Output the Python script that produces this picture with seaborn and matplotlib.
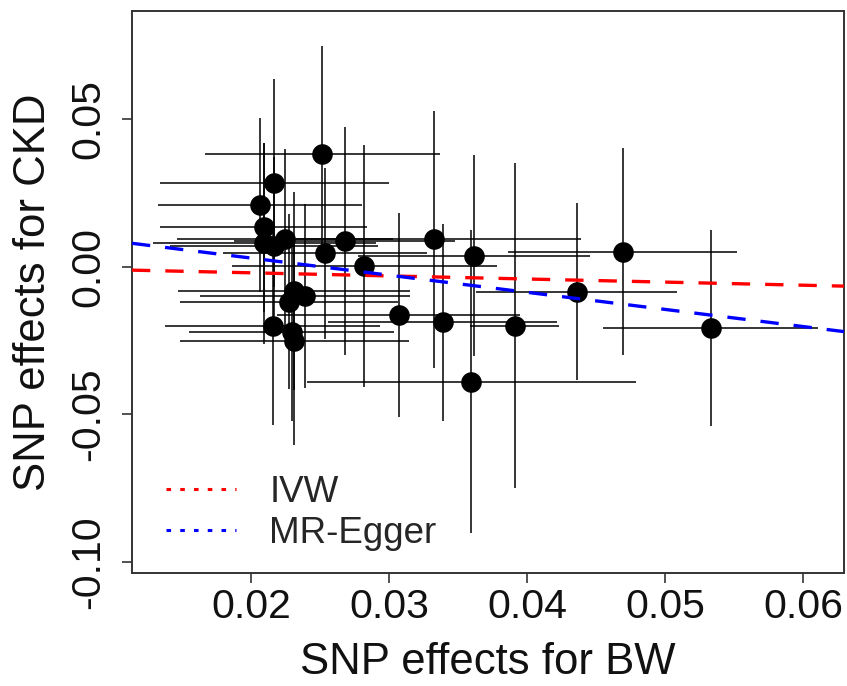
import numpy as np
import pandas as pd
import matplotlib
matplotlib.use("Agg")
import matplotlib.pyplot as plt
from matplotlib.lines import Line2D
import seaborn as sns

# SNP effects (exposure BW on x, outcome CKD on y) and 95% half-widths
bw_beta = [0.02517, 0.02169, 0.02065, 0.02094, 0.02098, 0.02167, 0.02246, 0.02536,
           0.0268, 0.0282, 0.03323, 0.03617, 0.04693, 0.0436, 0.0533, 0.0391,
           0.0339, 0.0307, 0.03597, 0.02314, 0.0239, 0.02275, 0.02157, 0.02294, 0.02314]
ckd_beta = [0.0382, 0.0283, 0.0209, 0.0133, 0.0079, 0.0070, 0.0092, 0.0045,
            0.0086, 0.0002, 0.0092, 0.0037, 0.0051, -0.0085, -0.0208, -0.0200,
            -0.0189, -0.0164, -0.0390, -0.0082, -0.0100, -0.0119, -0.0200, -0.0223, -0.0252]
bw_ci = [0.0085, 0.0083, 0.0074, 0.0075, 0.0081, 0.0075, 0.0078, 0.0074,
         0.0080, 0.0096, 0.0107, 0.0084, 0.0083, 0.0073, 0.0078, 0.0032,
         0.0083, 0.0088, 0.0119, 0.0084, 0.0076, 0.0079, 0.0078, 0.0074, 0.0083]
ckd_ci = [0.0366, 0.0351, 0.0296, 0.0286, 0.0340, 0.0300, 0.0307, 0.0289,
          0.0387, 0.0410, 0.0434, 0.0341, 0.0351, 0.0299, 0.0333, 0.0550,
          0.0333, 0.0344, 0.0514, 0.0336, 0.0311, 0.0296, 0.0336, 0.0300, 0.0353]

# fitted lines (intercept, slope)
ivw_fit = (0.0, -0.105)
egger_fit = (0.0145, -0.580)

df = pd.DataFrame({"bw": bw_beta, "ckd": ckd_beta, "bw_ci": bw_ci, "ckd_ci": ckd_ci})

sns.set_style("ticks")
plt.rcParams['font.family'] = ['Liberation Sans', 'DejaVu Sans']

fig = plt.figure(figsize=(8.47, 6.86), dpi=100)
ax = fig.add_axes([0.1558, 0.1647, 0.8407, 0.8193])

# error bars first, then points
ax.errorbar(df["bw"], df["ckd"], xerr=df["bw_ci"], yerr=df["ckd_ci"],
            fmt="none", ecolor="black", elinewidth=1.1, capsize=0, zorder=2)
sns.scatterplot(data=df, x="bw", y="ckd", color="black", s=220,
                edgecolor="black", linewidth=0, ax=ax, zorder=3)

ax.axline((0, ivw_fit[0]), slope=ivw_fit[1], color="red", lw=2.4,
          linestyle=(0, (5.5, 4.5)), zorder=4)
ax.axline((0, egger_fit[0]), slope=egger_fit[1], color="blue", lw=2.4,
          linestyle=(0, (5.5, 4.5)), zorder=4)

ax.set_xlim(0.01138, 0.06297)
ax.set_ylim(-0.1038, 0.0866)
ax.set_xticks([0.02, 0.03, 0.04, 0.05, 0.06])
ax.set_xticklabels(["0.02", "0.03", "0.04", "0.05", "0.06"])
ax.set_yticks([-0.10, -0.05, 0.0, 0.05])
ax.set_yticklabels(["-0.10", "-0.05", "0.00", "0.05"], rotation=90, va="center")

ax.tick_params(axis="both", direction="out", length=7, width=1.1, labelsize=29.5,
               color="#222222", labelcolor="#111111")
ax.tick_params(axis="x", pad=4)
ax.tick_params(axis="y", pad=11)
for sp in ax.spines.values():
    sp.set_visible(True)
    sp.set_color("#333333")
    sp.set_linewidth(1.4)

ax.set_xlabel("SNP effects for BW", fontsize=31.5, color="#111111")
ax.set_ylabel("SNP effects for CKD", fontsize=31.5, color="#111111")
ax.xaxis.set_label_coords(0.5, -0.16)
ax.xaxis.label.set_va("center")
ax.yaxis.set_label_coords(-0.138, 0.5)
ax.yaxis.label.set_va("center")

handles = [Line2D([], [], color="red", lw=2.2, linestyle=(0, (1.5, 3))),
           Line2D([], [], color="blue", lw=2.2, linestyle=(0, (1.5, 3)))]
ax.legend(handles, ["IVW", "MR-Egger"], loc="lower left", bbox_to_anchor=(0.012, -0.006),
          frameon=False, fontsize=26.5, handlelength=1.9, handletextpad=0.9,
          labelspacing=0.15, borderaxespad=0.3)

fig.savefig("out.png", dpi=100, facecolor="white")
